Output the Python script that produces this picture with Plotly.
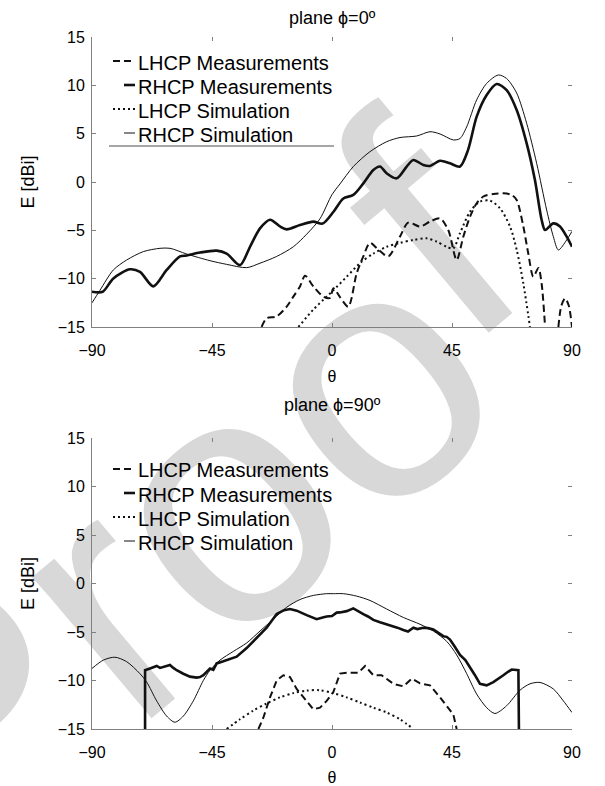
import plotly.graph_objects as go

# ---------------- plane phi = 0 deg ----------------
p0_rhcp_sim_theta = [-90, -87, -82, -77, -70.75, -64.5, -60.75, -54.5, -45.75, -39.5, -32, -27,
                     -20.75, -14.5, -9.5, -4.5, 0, 3, 8, 14.25, 20.5, 25.5, 31.75, 36.75, 40.5,
                     45.5, 48, 50.5, 54.25, 58, 62.4, 65.5, 69.25, 73, 76.75, 80.5, 83, 84.9, 88, 90]
p0_rhcp_sim_db = [-12.5, -11.2, -9.1, -8.07, -7.2, -6.86, -6.86, -7.45, -8.14, -8.52, -8.86, -8.4,
                  -7.7, -6.7, -5.4, -3.8, -1.3, -0.2, 1.6, 3.14, 4.17, 4.6, 4.76, 5.2, 4.97,
                  4.35, 4.5, 5.7, 8.5, 10.2, 11.07, 10.7, 9.2, 6.07, 1.93, -2.9, -5.65, -7.03, -6.0, -5.1]

p0_rhcp_meas_theta = [-90, -86, -82, -75.75, -72, -67, -62, -57, -54.5, -49.5, -43.25, -39.5,
                      -34.5, -30.75, -27, -23.25, -19.5, -17, -12, -7, -3.5, 0.5, 4.25, 8, 11.75,
                      15.5, 18, 20.5, 24.25, 28, 30.5, 34.25, 36.75, 40.5, 44.25, 48, 51, 54.25,
                      58, 61.75, 65.5, 69.25, 73, 76.1, 78.6, 79.9, 83, 85.5, 88, 90]
p0_rhcp_meas_db = [-11.35, -11.35, -9.97, -9.03, -9.3, -10.8, -9.1, -7.7, -7.6, -7.3, -7.1, -7.4,
                   -8.6, -6.7, -4.8, -3.9, -4.6, -4.9, -4.45, -4.1, -4.3, -3.1, -1.7, -1.34, -0.14,
                   1.24, 1.6, 0.9, 0.38, 1.6, 2.28, 1.76, 1.66, 2.2, 1.93, 1.6, 3.3, 6.76,
                   9.0, 10.14, 9.5, 7.45, 4.0, 0.2, -3.9, -4.97, -4.28, -4.6, -5.66, -6.7]

p0_lhcp_meas_theta = [-26.4, -24.5, -20.75, -17, -14.5, -12, -10.1, -7, -3.25, -0.75, 0.5, 3,
                      6.1, 9.25, 11.75, 14.25, 17.4, 21.1, 25.5, 28.6, 33, 36.75, 40.5, 43.6,
                      46.75, 49.25, 51.75, 54.25, 56.75, 60.5, 64.25, 67.4, 69.25, 71.75, 73.6,
                      75.5, 77.4, 78.6, 79.9, None, 84.9, 86, 87.4, 88.8, 90]
p0_lhcp_meas_db = [-15, -14.1, -13.9, -12.9, -11.86, -10.8, -9.7, -10.8, -11.86, -12.0, -11.0, -11.9,
                   -12.9, -9.45, -7.7, -6.3, -7.0, -7.7, -5.65, -4.2, -4.6, -4.1, -3.76, -4.97,
                   -8.07, -5.65, -3.6, -2.2, -1.5, -1.24, -1.17, -1.34, -1.86, -4.6, -7.4,
                   -9.8, -8.9, -10.5, -15, None, -15, -12.8, -12.03, -12.8, -15]

p0_lhcp_sim_theta = [-12.6, -7, -2, 0.5, 5.5, 10.5, 15.5, 20.5, 25.5, 30.5, 35.5, 39.25, 43, 45.5,
                     48, 51.75, 55.5, 59.25, 63, 66.75, 69.25, 71.75, 74.25]
p0_lhcp_sim_db = [-15, -13.2, -11.86, -11.2, -9.8, -8.4, -7.4, -6.7, -6.3, -6.0, -5.83, -6.17, -6.7,
                  -6.86, -5.3, -3.07, -2.03, -1.93, -2.72, -4.6, -7.0, -10.5, -15]

# ---------------- plane phi = 90 deg ----------------
p90_rhcp_sim_theta = [-90, -85.75, -81.4, -77, -72, -69.5, -65.75, -62, -58.9, -55.75, -52, -48.25,
                      -45.75, -42, -37, -32, -27, -22, -17, -12, -7, -2, 0.5, 4.25, 9.25, 14.25,
                      20.5, 26.75, 33, 38, 43, 46.75, 50.5, 54.25, 58, 61.1, 65.5, 70.5, 74.25,
                      78, 83, 86.75, 90]
p90_rhcp_sim_db = [-8.76, -7.9, -7.6, -8.06, -9.3, -10.16, -12.1, -13.67, -14.3, -13.67, -12.1, -10.0,
                   -8.94, -7.9, -7.0, -6.13, -4.9, -3.68, -2.45, -1.65, -1.23, -1.05, -1.05, -1.05,
                   -1.3, -1.75, -2.63, -3.5, -4.2, -4.9, -5.96, -7.36, -9.29, -11.4, -12.8, -13.4,
                   -12.6, -11.0, -10.34, -10.2, -10.87, -12.1, -13.3]

p90_rhcp_meas_theta = [-70.1, -70.1, -68.25, -65.75, -64.5, -63.25, -62, -60.75, -59.5, -58.25,
                       -55.75, -54.5, -53.25, -50.75, -49.5, -48.25, -45.75, -44.5, -43.25, -41,
                       -39.5, -35.75, -32, -28.25, -24.5, -20.75, -18, -15.75, -13.25, -9.5, -7.5,
                       -5.75, -3.5, -2, 0, 1.75, 3, 5.5, 8, 10, 11.75, 13.5, 15.5, 18, 20.5, 23,
                       24.5, 26.75, 28.5, 30.5, 32, 34.25, 36, 38, 40, 41.75, 43, 44.25, 46, 48,
                       50, 51.75, 53.5, 55.5, 58, 60.5, 62, 64.25, 66, 67.4, 69.9, 70.1]
p90_rhcp_meas_db = [-15, -8.94, -8.76, -8.5, -8.7, -8.6, -8.45, -8.4, -8.7, -8.94,
                    -9.3, -9.45, -9.6, -9.7, -9.65, -9.46, -8.76, -8.9, -8.24, -8.05,
                    -7.9, -7.54, -6.66, -5.6, -4.56, -3.15, -2.75, -2.63, -2.8, -3.26, -3.5,
                    -3.68, -3.5, -3.4, -3.35, -3.0, -2.98, -2.85, -2.56, -2.9, -3.15, -3.4, -3.75,
                    -4.0, -4.2, -4.35, -4.55, -4.8, -4.95, -4.56, -4.7, -4.56, -4.6, -4.73, -5.1,
                    -5.43, -5.5, -5.78, -6.5, -7.36, -7.9, -8.59, -9.4, -10.34, -10.5, -10.16,
                    -9.9, -9.46, -9.1, -8.87, -8.94, -15]

p90_lhcp_meas_theta = [-27.6, -25.75, -23.25, -20.75, -18.25, -15.75, -13.25, -9.5, -7, -4.5, -2,
                       0.5, 3, 5.5, 9.9, 12.4, 15.5, 18.6, 23, 26.75, 29.9, 33, 36.75, 40.5,
                       43.6, 45.5, 46.75]
p90_lhcp_meas_db = [-15, -13.84, -11.74, -10.0, -9.46, -9.64, -10.87, -12.1, -12.97, -12.8, -12.1,
                    -11.2, -9.29, -9.2, -9.2, -8.5, -9.46, -9.46, -10.34, -10.6, -9.8, -10.3,
                    -10.5, -11.74, -12.8, -13.5, -15]

p90_lhcp_sim_theta = [-39.5, -34.5, -29.5, -24.5, -19.5, -14.5, -9.5, -4.5, 0.5, 5.5, 10.5, 15.5,
                      20.5, 25.5, 30.5]
p90_lhcp_sim_db = [-15, -14.0, -13.1, -12.37, -11.74, -11.3, -11.04, -11.0, -11.3, -11.74, -12.27,
                   -12.8, -13.3, -14.0, -15]

series_names = ["LHCP Measurements", "RHCP Measurements", "LHCP Simulation", "RHCP Simulation"]
x_ticks = [-90, -45, 0, 45, 90]
y_ticks = [-15, -10, -5, 0, 5, 10, 15]
titles = ["plane \u03d5=0\u00ba", "plane \u03d5=90\u00ba"]
# watermark word, set as two pieces so the final letter can sit tight against the rest
watermark_parts = ["Proo", "f"]

FONT = "Liberation Sans, Arial, sans-serif"
INK = "#111111"
AXIS = "#808080"

# figure geometry (pixels) used to place the hand-made legends
W, H = 605, 786
ML, MR, MT, MB = 92, 33, 37, 57
PW, PH = W - ML - MR, H - MT - MB


def px_to_paper(px, py):
    return (px - ML) / PW, (H - MB - py) / PH


styles = [
    dict(color=INK, width=2, dash="7px,4px"),   # LHCP measurements
    dict(color=INK, width=2.6),                 # RHCP measurements
    dict(color=INK, width=2, dash="2px,3px"),   # LHCP simulation
    dict(color=INK, width=1),                   # RHCP simulation
]
# legend sample start (px) for each entry; all samples end where the label begins
sample_x0 = [113, 124, 113, 124]

panels = [
    dict(x="x", y="y",
         data=[(p0_lhcp_meas_theta, p0_lhcp_meas_db), (p0_rhcp_meas_theta, p0_rhcp_meas_db),
               (p0_lhcp_sim_theta, p0_lhcp_sim_db), (p0_rhcp_sim_theta, p0_rhcp_sim_db)],
         shapes=["spline", "spline", "spline", "spline"],
         legend_rows=[61, 85, 109, 133], title_y=18),
    dict(x="x2", y="y2",
         data=[(p90_lhcp_meas_theta, p90_lhcp_meas_db), (p90_rhcp_meas_theta, p90_rhcp_meas_db),
               (p90_lhcp_sim_theta, p90_lhcp_sim_db), (p90_rhcp_sim_theta, p90_rhcp_sim_db)],
         shapes=["linear", "linear", "spline", "spline"],
         legend_rows=[469, 493, 517, 541], title_y=405),
]

fig = go.Figure()
annotations = []
shapes = []

# light grey diagonal watermark, kept beneath the curves
for text, (cx, cy) in zip(watermark_parts, [(138, 528), (403, 203)]):
    wx, wy = px_to_paper(cx, cy)
    shapes.append(dict(type="rect", xref="paper", yref="paper", layer="below",
                       x0=wx - 0.01, x1=wx + 0.01, y0=wy - 0.01, y1=wy + 0.01,
                       line=dict(width=0), fillcolor="rgba(0,0,0,0)",
                       label=dict(text=text, textangle=-40, textposition="middle center",
                                  font=dict(family="Liberation Sans", size=350, color="#d8d8d8"))))

for p in panels:
    for name, (th, db), st, shp in zip(series_names, p["data"], styles, p["shapes"]):
        line = dict(st)
        line["shape"] = shp
        if shp == "spline":
            line["smoothing"] = 0.8
        fig.add_trace(go.Scatter(x=th, y=db, mode="lines", name=name, line=line,
                                 xaxis=p["x"], yaxis=p["y"], showlegend=False,
                                 connectgaps=False, hoverinfo="skip"))
    # legend: short line sample followed by the label
    for name, st, x0, row in zip(series_names, styles, sample_x0, p["legend_rows"]):
        lx0, ly = px_to_paper(x0, row)
        lx1, _ = px_to_paper(135, row)
        shapes.append(dict(type="line", xref="paper", yref="paper", x0=lx0, x1=lx1, y0=ly, y1=ly,
                           line=dict(color=st["color"], width=st["width"],
                                     dash=st.get("dash", "solid"))))
        tx, ty = px_to_paper(136, row + 1.5)
        annotations.append(dict(text=name, x=tx, y=ty, xref="paper", yref="paper",
                                showarrow=False, xanchor="left", yanchor="middle",
                                font=dict(family=FONT, size=20, color="black")))
    tx, ty = px_to_paper(332, p["title_y"])
    annotations.append(dict(text=titles[panels.index(p)], x=tx, y=ty, xref="paper", yref="paper",
                            showarrow=False, xanchor="center", yanchor="middle",
                            font=dict(family=FONT, size=18, color="black")))

# lower edge of the legend frame in the upper panel
fx0, fy = px_to_paper(109, 146)
fx1, _ = px_to_paper(334, 146)
shapes.append(dict(type="line", xref="paper", yref="paper", x0=fx0, x1=fx1, y0=fy, y1=fy,
                   line=dict(color="#888888", width=1.5)))

# empty traces so that the mirrored tick axes (top / right) are created
for xa, ya in [("x3", "y"), ("x", "y3"), ("x4", "y2"), ("x2", "y4")]:
    fig.add_trace(go.Scatter(x=[], y=[], xaxis=xa, yaxis=ya, showlegend=False, hoverinfo="skip"))

tickfont = dict(family=FONT, size=16, color="black")
xbase = dict(range=[-90, 90], tickvals=x_ticks, showline=True, linecolor=AXIS, linewidth=1,
             ticks="inside", ticklen=4, tickcolor=AXIS, showgrid=False, zeroline=False,
             tickfont=tickfont, ticklabelstandoff=9, automargin=False,
             title=dict(text="\u03b8", font=dict(family=FONT, size=16, color="black"), standoff=12))
ybase = dict(range=[-15, 15], tickvals=y_ticks, showline=True, linecolor=AXIS, linewidth=1,
             ticks="inside", ticklen=4, tickcolor=AXIS, showgrid=False, zeroline=False,
             tickfont=tickfont, ticklabelstandoff=3, automargin=False,
             title=dict(text="E [dBi]", font=dict(family=FONT, size=18, color="black"), standoff=18))
mirror_x = dict(range=[-90, 90], tickvals=x_ticks, showline=False, ticks="inside", ticklen=4,
                tickcolor=AXIS, showticklabels=False, showgrid=False, zeroline=False, side="top",
                automargin=False)
mirror_y = dict(range=[-15, 15], tickvals=y_ticks, showline=False, ticks="inside", ticklen=4,
                tickcolor=AXIS, showticklabels=False, showgrid=False, zeroline=False, side="right",
                automargin=False)

_, top_low = px_to_paper(0, 327)
_, bot_high = px_to_paper(0, 438)

fig.update_layout(
    width=W, height=H,
    margin=dict(l=ML, r=MR, t=MT, b=MB, autoexpand=False),
    paper_bgcolor="white", plot_bgcolor="rgba(0,0,0,0)",
    font=dict(family=FONT, color="black"),
    xaxis=dict(xbase, domain=[0, 1], anchor="y"),
    yaxis=dict(ybase, domain=[top_low, 1.0], anchor="x"),
    xaxis2=dict(xbase, domain=[0, 1], anchor="y2"),
    yaxis2=dict(ybase, domain=[0.0, bot_high], anchor="x2"),
    xaxis3=dict(mirror_x, overlaying="x", anchor="y"),
    yaxis3=dict(mirror_y, overlaying="y", anchor="x"),
    xaxis4=dict(mirror_x, overlaying="x2", anchor="y2"),
    yaxis4=dict(mirror_y, overlaying="y2", anchor="x2"),
    showlegend=False,
    annotations=annotations,
    shapes=shapes,
)

fig.write_html("out.html")
